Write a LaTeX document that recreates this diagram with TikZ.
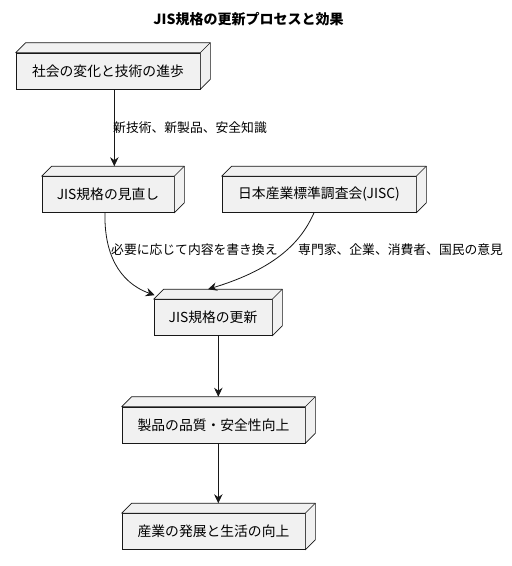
\documentclass[tikz,border=0pt]{standalone}
\usepackage{fontspec}
\setmainfont{Noto Sans CJK JP}
\usetikzlibrary{arrows.meta,calc}
\definecolor{boxfill}{HTML}{F1F1F1}
\definecolor{ink}{HTML}{181818}
\tikzset{
 nodebox/.style={draw=ink, fill=boxfill, line width=0.6pt, inner sep=0pt, font=\fontsize{13.8}{16}\selectfont, anchor=center, minimum height=36pt},
 arr/.style={draw=ink, line width=0.8pt, -{Stealth[length=9pt,width=8.5pt,inset=3pt]}},
 lbl/.style={font=\fontsize{12.8}{15}\selectfont, anchor=west, inner sep=0pt},
 depthface/.style={draw=ink, fill=boxfill, line width=0.6pt, line join=round}
}
\begin{document}
\begin{tikzpicture}[x=1pt,y=-1pt]
\useasboundingbox (0,0) rectangle (512,566);
\node[font=\bfseries\fontsize{14}{16}\selectfont] (title) at (248.5,19) {JIS規格の更新プロセスと効果};
\node[nodebox, minimum width=184pt] (n1) at (108,71) {社会の変化と技術の進歩};
\node[nodebox, minimum width=132pt] (n2) at (108,194.5) {JIS規格の見直し};
\node[nodebox, minimum width=194pt] (n3) at (319,194.5) {日本産業標準調査会(JISC)};
\node[nodebox, minimum width=118pt] (n4) at (213,317.5) {JIS規格の更新};
\node[nodebox, minimum width=183pt] (n5) at (213.5,425) {製品の品質・安全性向上};
\node[nodebox, minimum width=183pt] (n6) at (213.5,531.5) {産業の発展と生活の向上};
\foreach \n in {n1,n2,n3,n4,n5,n6}{
 \filldraw[depthface] (\n.north west) -- ++(10,-10) -- ($(\n.north east)+(10,-10)$) -- ($(\n.south east)+(10,-10)$) -- (\n.south east) -- (\n.north east) -- cycle;
 \draw[depthface, fill=none] (\n.north east) -- ++(10,-10);
}
\draw[arr] ([xshift=6.3pt]n1.south) -- ([xshift=6.3pt,yshift=10pt]n2.north);
\node[lbl] (l1) at (113,128) {新技術、新製品、安全知識};
\draw[arr] ([xshift=-3pt]n2.south) .. controls (104,252) and (118,282) .. ([xshift=1pt,yshift=4pt]n4.north west);
\node[lbl] (l2) at (111,250) {必要に応じて内容を書き換え};
\draw[arr] ([xshift=-5pt]n3.south) .. controls (302,240) and (278,268) .. ([xshift=-5pt,yshift=10pt]n4.north);
\node[lbl] (l3) at (298,250) {専門家、企業、消費者、国民の意見};
\draw[arr] ([xshift=5.3pt]n4.south) -- ([xshift=4.8pt,yshift=10pt]n5.north);
\draw[arr] ([xshift=4.8pt]n5.south) -- ([xshift=4.8pt,yshift=10pt]n6.north);
\end{tikzpicture}
\end{document}
